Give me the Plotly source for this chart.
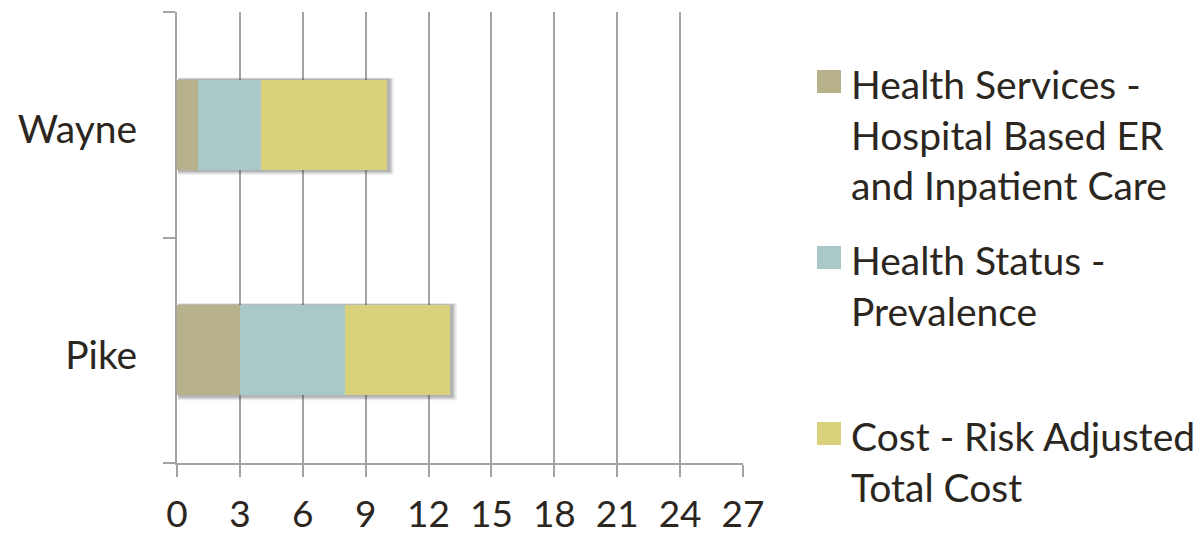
import plotly.graph_objects as go

# Data
counties = ["Pike", "Wayne"]
health_services = [3, 1]
health_status = [5, 3]
cost = [5, 6]

series_names = [
    "Health Services -<br>Hospital Based ER<br>and Inpatient Care",
    "Health Status -<br>Prevalence",
    "Cost - Risk Adjusted<br>Total Cost",
]
series_values = [health_services, health_status, cost]
colors = ["#b7b18c", "#abc8c8", "#d9d17b"]

x_ticks = [0, 3, 6, 9, 12, 15, 18, 21, 24, 27]

FONT = "Lato"
FSIZE = 39
TEXT = "#2b2620"
GRID = "#a3a3a3"

# plot area in pixels
W, H = 1195, 536
L, R, T, B = 177, 743, 12, 463


def px_x(px):
    return (px - L) / (R - L)


def px_y(py):
    return (B - py) / (B - T)


fig = go.Figure()
for name, vals, col in zip(series_names, series_values, colors):
    fig.add_trace(go.Bar(
        y=counties, x=vals, name=name, orientation="h",
        marker=dict(color=col, line=dict(width=0)),
        showlegend=False,
    ))

# soft drop shadow behind each stacked bar
shapes = []
totals = [sum(v) for v in zip(*series_values)]
half = 0.2
for i, tot in enumerate(totals):
    for dx, dy, a in [(0.34, 0.022, 0.10), (0.26, 0.016, 0.14), (0.18, 0.010, 0.20)]:
        shapes.append(dict(
            type="rect", xref="x", yref="y", layer="between",
            x0=0.05, x1=tot + dx, y0=i - half - dy, y1=i + half + dy * 0.4,
            fillcolor=f"rgba(60,60,60,{a})", line=dict(width=0),
        ))

# legend swatches and labels
annotations = []
sw_top = [70, 246, 422]
for name, col, top in zip(series_names, colors, sw_top):
    shapes.append(dict(
        type="rect", xref="paper", yref="paper",
        x0=px_x(817), x1=px_x(841), y0=px_y(top + 23), y1=px_y(top),
        fillcolor=col, line=dict(width=0),
    ))
    annotations.append(dict(
        xref="paper", yref="paper", x=px_x(849), y=px_y(top - 11),
        xanchor="left", yanchor="top", align="left", showarrow=False,
        text=name, font=dict(family=FONT, size=FSIZE, color=TEXT),
    ))

fig.update_layout(
    barmode="stack",
    bargap=0.6,
    width=W, height=H,
    margin=dict(l=L, r=W - R, t=T, b=H - B, pad=0, autoexpand=False),
    paper_bgcolor="white", plot_bgcolor="white",
    font=dict(family=FONT, size=FSIZE, color=TEXT),
    shapes=shapes,
    annotations=annotations,
    xaxis=dict(
        range=[0, 27], tickvals=x_ticks, ticktext=[str(v) for v in x_ticks],
        showgrid=True, gridcolor=GRID, gridwidth=2,
        showline=True, linecolor=GRID, linewidth=2,
        ticks="outside", ticklen=12, tickcolor=GRID, tickwidth=2,
        zeroline=False, fixedrange=True, automargin=False,
        ticklabelstandoff=6,
        tickfont=dict(family=FONT, size=37, color=TEXT),
    ),
    yaxis=dict(
        range=[-0.5, 1.5], categoryorder="array", categoryarray=counties,
        showgrid=False, showline=True, linecolor=GRID, linewidth=2,
        ticks="outside", ticklen=12, tickcolor=GRID, tickwidth=2,
        tickson="boundaries", ticklabelstandoff=30, automargin=False,
        ticklabelshift=5,
        tickfont=dict(family=FONT, size=FSIZE, color=TEXT),
    ),
)

fig.write_html("out.html")
